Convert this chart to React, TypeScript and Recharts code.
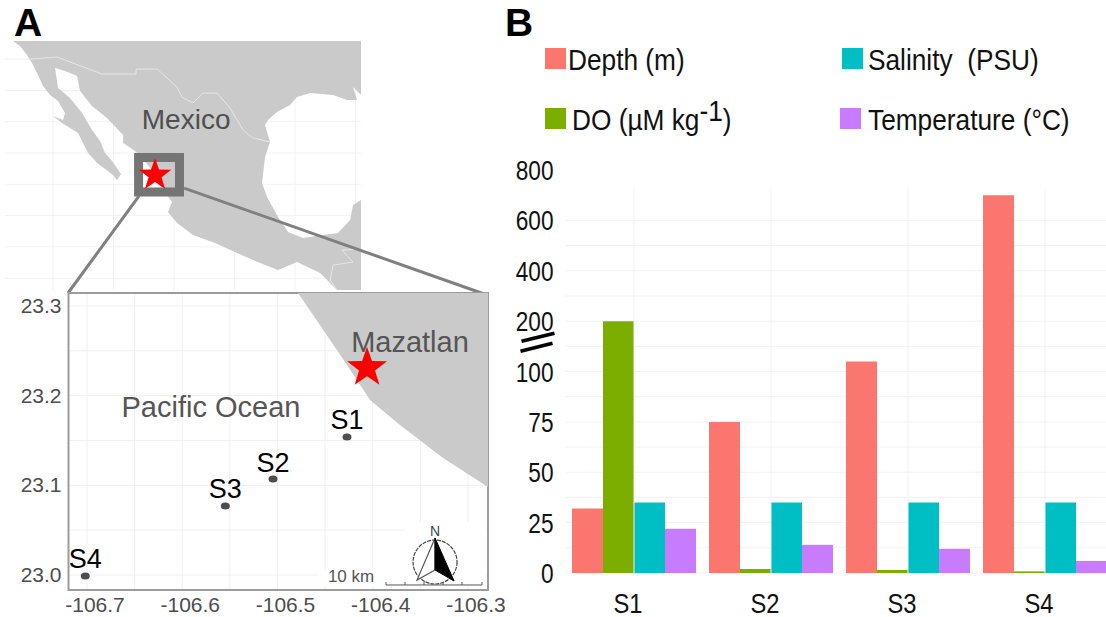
import React from 'react';
import {
  Bar, BarChart, CartesianGrid, LabelList, Legend, ReferenceArea, ReferenceLine,
  Scatter, ScatterChart, XAxis, YAxis,
} from 'recharts';

const SANS = '"Liberation Sans", Arial, sans-serif';

// panel B
const stations = ['S1', 'S2', 'S3', 'S4'];
const depth = [32, 75, 120, 700];
const dissolvedOxygen = [200, 2, 1.5, 0.8];
const salinity = [35, 35, 35, 35];
const temperature = [22, 14, 12, 6];
const brokenAxisTicks = [0, 25, 50, 75, 100, 200, 400, 600, 800];

// panel A, overview map: [lon, lat]
const coastline = [
  [-118.31, 33.95], [-89.55, 33.95], [-89.55, 29.63], [-90.21, 30.27], [-89.88, 29.23], [-90.7, 29.23],
  [-91.86, 29.63], [-93.76, 29.79], [-94.83, 29.47], [-95.41, 28.83], [-96.49, 28.27], [-97.23, 27.64],
  [-97.48, 27.24], [-97.07, 25.88], [-97.48, 24.68], [-97.73, 22.6], [-97.31, 21.49], [-96.4, 19.89],
  [-95.58, 18.69], [-94.34, 18.21], [-92.69, 18.45], [-91.45, 18.61], [-90.45, 19.65], [-90.21, 20.85],
  [-89.55, 21.25], [-89.55, 14.06], [-91.53, 14.06], [-92.93, 15.42], [-94.83, 16.29], [-96.4, 15.65],
  [-97.89, 16.21], [-99.79, 17.01], [-101.61, 17.81], [-103.43, 18.45], [-104.75, 19.41], [-105.5, 20.29],
  [-105.17, 21.09], [-105.91, 22.04], [-106.57, 23.24], [-107.15, 24.04], [-108.22, 25.16], [-109.21, 25.8],
  [-109.21, 26.44], [-110.54, 27.8], [-111.78, 28.75], [-112.77, 29.95], [-113.02, 31.15], [-114.01, 31.55],
  [-114.83, 31.79], [-114.59, 30.19], [-113.6, 29.39], [-112.6, 28.19], [-111.78, 26.84], [-111.12, 25.96],
  [-110.7, 25.0], [-110.12, 24.36], [-109.38, 23.32], [-109.71, 22.84], [-110.04, 23.24], [-111.36, 24.2],
  [-112.11, 25.0], [-112.93, 26.6], [-114.26, 27.4], [-115, 27.96], [-114.17, 27.64], [-114.01, 28.19],
  [-114.59, 29.15], [-115.25, 29.63], [-115.83, 30.35], [-116.32, 31.39], [-116.74, 32.19], [-117.15, 32.83],
  [-117.73, 33.55],
];
const usBorder = [
  [-116.9, 32.5], [-114.67, 32.67], [-110.95, 31.31], [-108.14, 31.31], [-108.14, 31.71], [-106.4, 31.71],
  [-104.75, 30.27], [-104.34, 29.47], [-103.43, 29.0], [-102.6, 29.79], [-101.45, 29.79], [-100.37, 28.59],
  [-99.3, 26.84], [-98.47, 26.2], [-97.07, 25.88],
];
const guatemalaBorder = [
  [-89.55, 17.33], [-91.12, 17.25], [-90.21, 16.29], [-91.86, 16.05], [-92.1, 14.86], [-91.53, 14.06],
];
const mapLonLines = [-115, -110, -105, -100, -95, -90];
const mapLatLines = [32.5, 30, 27.5, 25, 22.5, 20, 17.5, 15];
const mazatlanOverview = [{ lon: -106.57, lat: 23.24 }];
const mexicoLabel = [{ lon: -104, lat: 27.64, name: 'Mexico' }];

// panel A, inset
const insetLand = [
  [-106.4785, 23.3144], [-106.4533, 23.2754], [-106.427, 23.2341], [-106.4029, 23.1951],
  [-106.3714, 23.1672], [-106.3262, 23.1304], [-106.279, 23.0981], [-106.279, 23.3144],
];
const sampleSites = [
  { lon: -106.427, lat: 23.154, name: 'S1' },
  { lon: -106.5047, lat: 23.107, name: 'S2' },
  { lon: -106.5548, lat: 23.077, name: 'S3' },
  { lon: -106.7018, lat: 22.999, name: 'S4' },
];
const insetLonTicks = [-106.7, -106.6, -106.5, -106.4, -106.3];
const insetLatTicks = [23.0, 23.1, 23.2, 23.3];
const insetLonLines = [-106.7, -106.65, -106.6, -106.55, -106.5, -106.45, -106.4, -106.35, -106.3];
const insetLatLines = [23.0, 23.05, 23.1, 23.15, 23.2, 23.25, 23.3];
const mazatlan = [{ lon: -106.406, lat: 23.231 }];
const insetLabels = [
  { lon: -106.5698, lat: 23.1873, name: 'Pacific Ocean' },
  { lon: -106.3609, lat: 23.2598, name: 'Mazatlan' },
];
const scaleBarLon = [-106.3861, -106.3661, -106.3462, -106.3262, -106.3063, -106.2853];
const scaleBarLat = 22.9889;
const compassAt = [{ lon: -106.3346, lat: 23.0145 }];
const scaleLabel = [{ lon: -106.4228, lat: 22.9978, name: '10 km' }];

const toPoints = (pairs: number[][]) => pairs.map(([lon, lat]) => ({ lon, lat }));

// the y axis of panel B is equally spaced on unequal values, so map a value to its tick position
const toAxis = (v: number) => {
  for (let i = 1; i < brokenAxisTicks.length; i++) {
    const a = brokenAxisTicks[i - 1];
    const b = brokenAxisTicks[i];
    if (v <= b) return i - 1 + (v - a) / (b - a);
  }
  return brokenAxisTicks.length - 1;
};

const barRows = stations.map((station, i) => ({
  station,
  depth: toAxis(depth[i]),
  dissolvedOxygen: toAxis(dissolvedOxygen[i]),
  salinity: toAxis(salinity[i]),
  temperature: toAxis(temperature[i]),
}));

const nothing = () => <g />;

const starPoints = (cx: number, cy: number, R: number) => {
  const pts: string[] = [];
  for (let i = 0; i < 10; i++) {
    const r = i % 2 === 0 ? R : R * 0.4;
    const a = -Math.PI / 2 + (i * Math.PI) / 5;
    pts.push(`${cx + r * Math.cos(a)},${cy + r * Math.sin(a)}`);
  }
  return pts.join(' ');
};
const bigStar = (p: any) => <polygon points={starPoints(p.cx, p.cy, 21)} fill="#ff0000" />;
const smallStar = (p: any) => <polygon points={starPoints(p.cx, p.cy, 17)} fill="#ff0000" />;
const siteDot = (p: any) => <ellipse cx={p.cx} cy={p.cy} rx={4.5} ry={3.5} fill="#4d4d4d" />;
const scaleTick = (p: any) => <line x1={p.cx} x2={p.cx} y1={p.cy - 3} y2={p.cy} stroke="#555" strokeWidth={1} />;
const placeText = (size: number, color: string) => (p: any) => (
  <text x={p.cx} y={p.cy} textAnchor="middle" dominantBaseline="central" fontSize={size} fontFamily={SANS} fill={color}>
    {p.payload?.name ?? p.name}
  </text>
);
const compass = (p: any) => (
  <g transform={`translate(${p.cx},${p.cy})`}>
    <circle r={22} fill="none" stroke="#444" strokeWidth={1.2} strokeDasharray="4 1" />
    <polygon points="0,-24 -18,18 0,8" fill="#fff" stroke="#555" strokeWidth={1.2} />
    <polygon points="0,-24 19,19 0,8" fill="#000" stroke="#000" />
    <text y={-26} textAnchor="middle" fontSize={14} fontFamily={SANS} fill="#444">N</text>
  </g>
);

const InsetXTick = (p: any) => (
  <text x={p.x + 8} y={p.y + 14} textAnchor="middle" fontSize={21} fontFamily={SANS} fill="#4d4d4d">
    {p.payload.value.toFixed(1)}
  </text>
);
const InsetYTick = (p: any) => (
  <text x={p.x + 1} y={p.y + 7} textAnchor="end" fontSize={21} fontFamily={SANS} fill="#4d4d4d">
    {p.payload.value.toFixed(1)}
  </text>
);

const BrokenYTick = (p: any) => {
  if (p.payload.value === 4.5) {
    return (
      <g stroke="#000" strokeWidth={3.5}>
        <line x1={p.x - 36} y1={p.y - 5} x2={p.x - 3} y2={p.y - 13} />
        <line x1={p.x - 37} y1={p.y + 5} x2={p.x - 5} y2={p.y - 3} />
      </g>
    );
  }
  return (
    <text transform={`translate(${p.x - 4},${p.y + 10}) scale(0.84,1)`} textAnchor="end" fontSize={27} fontFamily={SANS} fill="#111">
      {brokenAxisTicks[p.payload.value]}
    </text>
  );
};
const StationTick = (p: any) => (
  <text transform={`translate(${p.x - 6},${p.y + 32}) scale(0.88,1)`} textAnchor="middle" fontSize={27} fontFamily={SANS} fill="#111">
    {p.payload.value}
  </text>
);

const legendSpots = [
  { box: [45, 48], text: [68, 43] },
  { box: [45, 108], text: [72, 103] },
  { box: [342, 48], text: [368, 43] },
  { box: [340, 108], text: [368, 103] },
];
const legendLabel = (name: string) =>
  name === 'DO' ? (
    <>DO (µM kg<span style={{ position: 'relative', top: -9 }}>-1</span>)</>
  ) : (
    name
  );
const BarLegend = ({ payload }: any) => (
  <div style={{ position: 'relative', width: 0, height: 0 }}>
    {(payload || []).map((item: any, i: number) => (
      <React.Fragment key={item.value}>
        <div style={{ position: 'absolute', left: legendSpots[i].box[0], top: legendSpots[i].box[1], width: 21, height: 21, background: item.color }} />
        <div style={{ position: 'absolute', left: legendSpots[i].text[0], top: legendSpots[i].text[1], fontFamily: SANS, fontSize: 30, lineHeight: '34px', color: '#111', whiteSpace: 'pre', transform: 'scaleX(0.875)', transformOrigin: 'left' }}>
          {legendLabel(item.value)}
        </div>
      </React.Fragment>
    ))}
  </div>
);

const boldLetter = (left: number, text: string) => (
  <div style={{ position: 'absolute', left, top: 1, fontFamily: SANS, fontWeight: 700, fontSize: 39, lineHeight: '44px', color: '#000' }}>{text}</div>
);

const mapMargin = { left: 5, top: 41, right: 139, bottom: 10 };
const mapLon: [number, number] = [-118.97, -89.55];
const mapLat: [number, number] = [14.06, 33.95];

export default function App() {
  return (
    <div style={{ position: 'fixed', left: 0, top: 0, width: 1106, height: 617, overflow: 'hidden', background: '#fff' }}>
      {boldLetter(14, 'A')}
      {boldLetter(505, 'B')}

      <div style={{ position: 'absolute', left: 0, top: 0 }}>
        <ScatterChart width={500} height={300} margin={mapMargin}>
          <CartesianGrid stroke="#f2f2f2" verticalValues={mapLonLines} horizontalValues={mapLatLines} />
          <XAxis type="number" dataKey="lon" domain={mapLon} hide allowDataOverflow />
          <YAxis type="number" dataKey="lat" domain={mapLat} hide allowDataOverflow />
          <Scatter data={toPoints(coastline)} fill="#cacaca" shape={nothing} line={{ fill: '#cacaca', stroke: 'none' }} isAnimationActive={false} />
          <Scatter data={toPoints(usBorder)} fill="#ffffff" shape={nothing} line={{ stroke: '#e6e6e6', strokeWidth: 1 }} isAnimationActive={false} />
          <Scatter data={toPoints(guatemalaBorder)} fill="#ffffff" shape={nothing} line={{ stroke: '#e6e6e6', strokeWidth: 1 }} isAnimationActive={false} />
          <Scatter data={mexicoLabel} shape={placeText(28, '#4f4f4f')} isAnimationActive={false} />
        </ScatterChart>
      </div>

      {/* zoom box, star and connectors have to sit above the land, so they get their own layer */}
      <div style={{ position: 'absolute', left: 0, top: 0 }}>
        <ScatterChart width={500} height={300} margin={mapMargin}>
          <XAxis type="number" dataKey="lon" domain={mapLon} hide allowDataOverflow />
          <YAxis type="number" dataKey="lat" domain={mapLat} hide allowDataOverflow />
          <ReferenceArea x1={-107.93} x2={-104.55} y1={21.88} y2={24.64} fill="none" stroke="#757575" strokeWidth={9} ifOverflow="visible" />
          <ReferenceLine segment={[{ x: -107.89, y: 21.57 }, { x: -113.76, y: 13.82 }]} stroke="#808080" strokeWidth={3} ifOverflow="visible" />
          <ReferenceLine segment={[{ x: -104.17, y: 22.2 }, { x: -79.13, y: 13.66 }]} stroke="#808080" strokeWidth={3} ifOverflow="visible" />
          <Scatter data={mazatlanOverview} shape={smallStar} isAnimationActive={false} />
        </ScatterChart>
      </div>

      <div style={{ position: 'absolute', left: 0, top: 280 }}>
        <ScatterChart width={510} height={337} margin={{ left: 0, top: 13, right: 22, bottom: 0 }}>
          <CartesianGrid stroke="#f0f0f0" verticalValues={insetLonLines} horizontalValues={insetLatLines} />
          <XAxis type="number" dataKey="lon" domain={[-106.7194, -106.279]} ticks={insetLonTicks} tick={InsetXTick} height={27} axisLine={false} tickLine={false} interval={0} allowDataOverflow />
          <YAxis type="number" dataKey="lat" domain={[22.9833, 23.3144]} ticks={insetLatTicks} tick={InsetYTick} width={68.5} axisLine={false} tickLine={false} interval={0} allowDataOverflow />
          <Scatter data={toPoints(insetLand)} fill="#cacaca" shape={nothing} line={{ fill: '#cacaca', stroke: 'none' }} isAnimationActive={false} />
          <ReferenceArea x1={-106.3661} x2={-106.2811} y1={22.9877} y2={23.0591} fill="#fff" fillOpacity={1} stroke="none" />
          <ReferenceArea x1={-106.4575} x2={-106.3661} y1={22.9877} y2={23.0056} fill="#fff" fillOpacity={1} stroke="none" />
          <ReferenceArea x1={-106.7194} x2={-106.279} y1={22.9833} y2={23.3144} fill="none" stroke="#9c9c9c" strokeWidth={2} />
          <Scatter data={sampleSites} shape={siteDot} isAnimationActive={false}>
            <LabelList dataKey="name" position="top" offset={3} fontSize={27} fontFamily={SANS} fill="#000" />
          </Scatter>
          <Scatter data={insetLabels} shape={placeText(29, '#555')} isAnimationActive={false} />
          <Scatter data={mazatlan} shape={bigStar} isAnimationActive={false} />
          <Scatter data={compassAt} shape={compass} isAnimationActive={false} />
          <Scatter data={scaleBarLon.map((lon) => ({ lon, lat: scaleBarLat }))} fill="#555" shape={scaleTick} line={{ stroke: '#555', strokeWidth: 1 }} isAnimationActive={false} />
          <Scatter data={scaleLabel} shape={placeText(17, '#555')} isAnimationActive={false} />
        </ScatterChart>
      </div>

      <div style={{ position: 'absolute', left: 500, top: 0 }}>
        <BarChart width={620} height={617} data={barRows} barGap={0} barCategoryGap={6.5} margin={{ left: 0, top: 170, right: 6.5, bottom: 0 }}>
          <CartesianGrid stroke="#f2f2f2" vertical={false} horizontalValues={[0, 0.5, 1, 1.5, 2, 2.5, 3, 3.5, 4, 4.5, 5, 5.5, 6, 6.5, 7]} />
          {stations.map((s) => (
            <ReferenceLine key={s} segment={[{ x: s, y: 0 }, { x: s, y: 7.65 }]} stroke="#f2f2f2" />
          ))}
          <XAxis dataKey="station" tick={StationTick} height={44} axisLine={false} tickLine={false} />
          <YAxis type="number" domain={[0, 8]} ticks={[0, 1, 2, 3, 4, 4.5, 5, 6, 7, 8]} tick={BrokenYTick} width={65.5} axisLine={false} tickLine={false} interval={0} />
          <Legend verticalAlign="top" align="left" content={BarLegend} itemSorter={null as any} wrapperStyle={{ left: 0, top: 0, width: 0, height: 0 }} />
          <Bar dataKey="depth" name="Depth (m)" fill="#fb766e" isAnimationActive={false} />
          <Bar dataKey="dissolvedOxygen" name="DO" fill="#7cae00" isAnimationActive={false} />
          <Bar dataKey="salinity" name={'Salinity  (PSU)'} fill="#00bfc4" isAnimationActive={false} />
          <Bar dataKey="temperature" name="Temperature (°C)" fill="#c77cff" isAnimationActive={false} />
        </BarChart>
      </div>
    </div>
  );
}
